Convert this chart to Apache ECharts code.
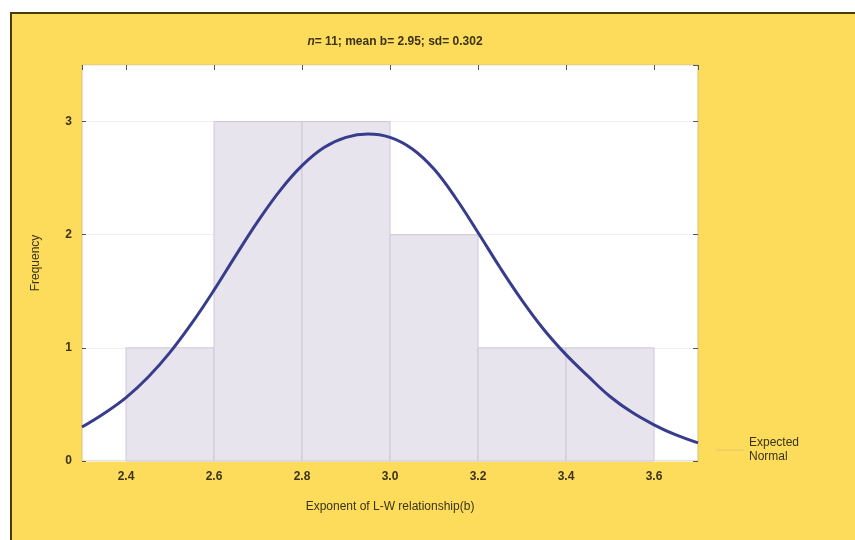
<!DOCTYPE html>
<html>
<head>
<meta charset="utf-8">
<script src="https://cdn.jsdelivr.net/npm/echarts@6/dist/echarts.min.js"></script>
<style>html,body{margin:0;padding:0;background:#fff;}#c{width:855px;height:540px;}</style>
</head>
<body>
<div id="c"></div>
<script>
// Histogram bins: [start, end]
var binStarts = [2.4, 2.6, 2.8, 3.0, 3.2, 3.4];
var binEnds   = [2.6, 2.8, 3.0, 3.2, 3.4, 3.6];
var frequencies = [1, 3, 3, 2, 1, 1];
// Expected normal curve
var curveX = [2.3, 2.35, 2.4, 2.45, 2.5, 2.55, 2.6, 2.65, 2.7, 2.75, 2.8, 2.85, 2.9, 2.95,
              3.0, 3.05, 3.1, 3.15, 3.2, 3.25, 3.3, 3.35, 3.4, 3.45, 3.5, 3.55, 3.6, 3.65, 3.7];
var curveY = [0.30, 0.42, 0.56, 0.74, 0.96, 1.22, 1.51, 1.82, 2.12, 2.39, 2.61, 2.77, 2.86, 2.89,
              2.86, 2.76, 2.58, 2.32, 2.02, 1.71, 1.42, 1.16, 0.94, 0.75, 0.57, 0.43, 0.32, 0.23, 0.16];
var xTicks = ['2.4', '2.6', '2.8', '3.0', '3.2', '3.4', '3.6'];
var yTicks = ['0', '1', '2', '3'];

var barData = binStarts.map(function (s, i) { return [s, binEnds[i], frequencies[i]]; });
var lineData = curveX.map(function (x, i) { return [x, curveY[i]]; });

var chart = echarts.init(document.getElementById('c'), null, {renderer: 'canvas'});
var dark = '#3a3318';
var font = 'Liberation Sans, Arial, sans-serif';

chart.setOption({
  backgroundColor: '#ffffff',
  animation: false,
  graphic: [
    {type: 'rect', z: -10, shape: {x: 10, y: 12, width: 845, height: 528}, style: {fill: '#fddb5b'}},
    {type: 'line', z: -9, shape: {x1: 10, y1: 13, x2: 855, y2: 13}, style: {stroke: '#4a3b0a', lineWidth: 2}},
    {type: 'line', z: -9, shape: {x1: 11, y1: 12, x2: 11, y2: 540}, style: {stroke: '#4a3b0a', lineWidth: 2}}
  ],
  title: {
    text: '{i|n}= 11; mean b= 2.95; sd= 0.302',
    left: 390, top: 31, textAlign: 'center',
    textStyle: {
      fontFamily: font, fontSize: 12, fontWeight: 'bold', color: dark,
      rich: {i: {fontFamily: font, fontSize: 12, fontWeight: 'bold', fontStyle: 'italic', color: dark}}
    }
  },
  legend: {
    left: 711, top: 431,
    orient: 'vertical',
    itemWidth: 28, itemHeight: 1,
    icon: 'rect',
    itemGap: 0,
    data: [{name: 'Expected Normal', itemStyle: {color: '#e6c46c'}}],
    formatter: function () { return 'Expected\nNormal'; },
    textStyle: {fontFamily: font, fontSize: 12, color: dark, lineHeight: 14}
  },
  grid: {
    left: 82, right: 157, top: 65, bottom: 79,
    show: true, backgroundColor: '#ffffff', borderColor: '#dcc47a', borderWidth: 1
  },
  xAxis: [{
    type: 'value', min: 2.3, max: 3.7, splitNumber: 7, position: 'bottom',
    name: 'Exponent of L-W relationship(b)', nameLocation: 'middle', nameGap: 40,
    nameTextStyle: {fontFamily: font, fontSize: 12, color: dark},
    axisLine: {show: false, onZero: false},
    axisTick: {show: false},
    splitLine: {show: false},
    axisLabel: {
      showMinLabel: false, showMaxLabel: false, margin: 10,
      fontFamily: font, fontSize: 12, fontWeight: 'bold', color: dark,
      formatter: function (v) { var s = (Math.round(v * 10) / 10).toFixed(1); return xTicks.indexOf(s) >= 0 ? s : ''; }
    }
  }, {
    type: 'value', min: 2.3, max: 3.7, splitNumber: 7, position: 'top',
    axisLine: {show: false, onZero: false},
    axisTick: {show: true, inside: true, length: 5, lineStyle: {color: '#555'}},
    axisLabel: {show: false}, splitLine: {show: false}
  }],
  yAxis: [{
    type: 'value', min: 0, max: 3.5, interval: 1, position: 'left',
    name: 'Frequency', nameLocation: 'middle', nameGap: 40,
    nameTextStyle: {fontFamily: font, fontSize: 12, color: dark},
    axisLine: {show: false, onZero: false},
    axisTick: {show: true, inside: true, length: 4, lineStyle: {color: '#555'}},
    splitLine: {show: true, lineStyle: {color: '#f1efec', width: 1}},
    axisLabel: {
      showMaxLabel: false, margin: 10,
      fontFamily: font, fontSize: 12, fontWeight: 'bold', color: dark,
      formatter: function (v) { var s = String(v); return yTicks.indexOf(s) >= 0 ? s : ''; }
    }
  }, {
    type: 'value', min: 0, max: 3.5, interval: 1, position: 'right',
    axisLine: {show: false, onZero: false},
    axisTick: {show: true, inside: true, length: 5, lineStyle: {color: '#555'}},
    axisLabel: {show: false}, splitLine: {show: false}
  }],
  series: [{
    type: 'custom',
    name: 'Histogram',
    xAxisIndex: 0, yAxisIndex: 0,
    data: barData,
    encode: {x: [0, 1], y: 2},
    renderItem: function (params, api) {
      var p0 = api.coord([api.value(0), api.value(2)]);
      var p1 = api.coord([api.value(1), 0]);
      return {
        type: 'rect',
        shape: {x: p0[0], y: p0[1], width: p1[0] - p0[0], height: p1[1] - p0[1]},
        style: {fill: '#e8e4ed', stroke: '#cdc8d6', lineWidth: 1}
      };
    }
  }, {
    type: 'line',
    name: 'Expected Normal',
    xAxisIndex: 0, yAxisIndex: 0,
    data: lineData,
    smooth: 0.4,
    showSymbol: false,
    lineStyle: {color: '#373d8c', width: 3},
    itemStyle: {color: '#373d8c'},
    z: 5
  }]
});
</script>
</body>
</html>
